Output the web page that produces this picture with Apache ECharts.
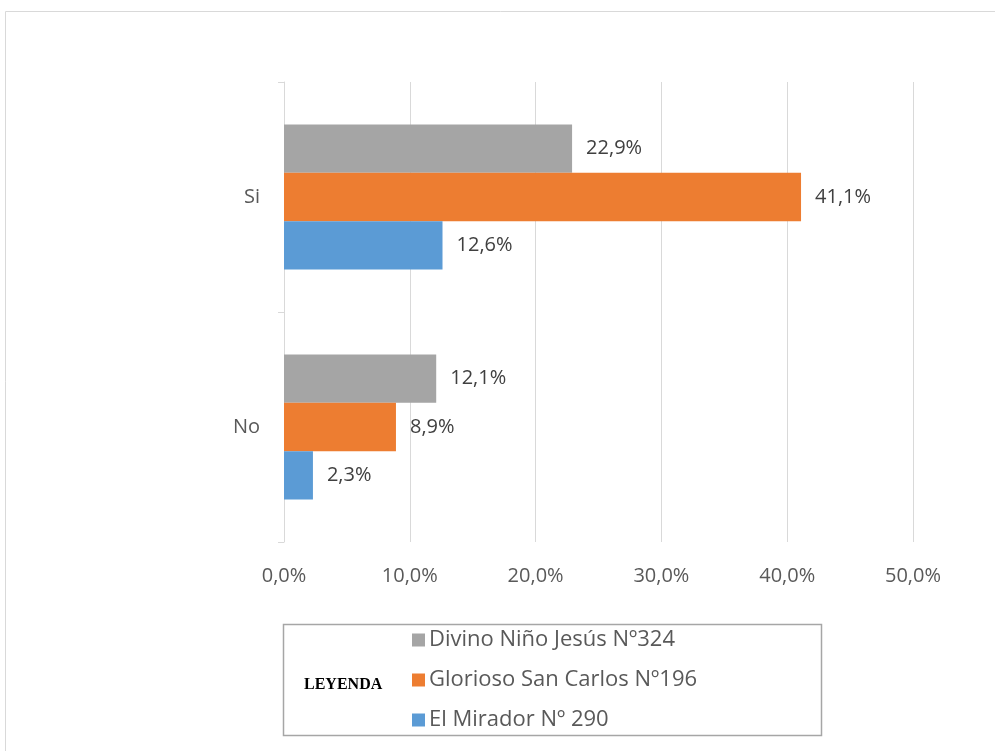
<!DOCTYPE html>
<html><head><meta charset="utf-8">
<script src="https://cdn.jsdelivr.net/npm/echarts@6/dist/echarts.min.js"></script>
<style>html,body{margin:0;padding:0;background:#fff}#c{width:995px;height:751px}</style>
</head><body><div id="c"></div>
<script>
const categories = ['Si', 'No'];
const seriesNames = ['Divino Niño Jesús Nº324', 'Glorioso San Carlos Nº196', 'El Mirador Nº 290'];
const divino = [22.9, 12.1];
const glorioso = [41.1, 8.9];
const mirador = [12.6, 2.3];
const xTicks = [0, 10, 20, 30, 40, 50];
const colors = ['#A5A5A5', '#ED7D31', '#5B9BD5'];
const values = [divino, glorioso, mirador];
const fmt = v => v.toFixed(1).replace('.', ',') + '%';

const chart = echarts.init(document.getElementById('c'));
chart.setOption({
  animation: false,
  grid: {left: 284, right: 82, top: 82, bottom: 209, containLabel: false},
  xAxis: {
    type: 'value', min: xTicks[0], max: xTicks[xTicks.length - 1], interval: 10,
    axisLine: {show: false}, axisTick: {show: false},
    axisLabel: {formatter: fmt, fontSize: 20, color: '#595959', margin: 24, fontFamily: 'Open Sans'},
    splitLine: {lineStyle: {color: '#d9d9d9', width: 1}}
  },
  yAxis: {
    type: 'category', data: categories, inverse: true,
    axisLine: {lineStyle: {color: '#d9d9d9', width: 1}},
    axisTick: {show: true, length: 6, lineStyle: {color: '#d9d9d9'}},
    axisLabel: {fontSize: 20, color: '#595959', margin: 24, fontFamily: 'Open Sans'}
  },
  legend: {
    orient: 'vertical', left: 407, top: 624, itemWidth: 13, itemHeight: 13, itemGap: 18, itemStyle: {borderWidth: 0},
    icon: 'rect',
    textStyle: {fontSize: 22, color: '#595959', fontFamily: 'Open Sans', padding: [0, 0, 0, -1]},
    data: seriesNames
  },
  graphic: [
    {type: 'rect', left: 3, top: 9, shape: {width: 1000, height: 760}, style: {fill: 'none', stroke: '#d9d9d9', lineWidth: 1}, z: -10},
    {type: 'rect', left: 281, top: 622, shape: {width: 538, height: 111}, style: {fill: 'none', stroke: '#a6a6a6', lineWidth: 1.5}},
    {type: 'text', left: 304, top: 677, style: {text: 'LEYENDA', font: 'bold 16px "Liberation Serif"', fill: '#000'}}
  ],
  series: seriesNames.map((n, i) => ({
    name: n, type: 'bar', data: values[i], barGap: '0%', barCategoryGap: '37%',
    itemStyle: {color: colors[i]},
    label: {show: true, position: 'right', distance: 14, formatter: p => fmt(p.value), fontSize: 20, color: '#404040', fontFamily: 'Open Sans'}
  }))
});
</script></body></html>
